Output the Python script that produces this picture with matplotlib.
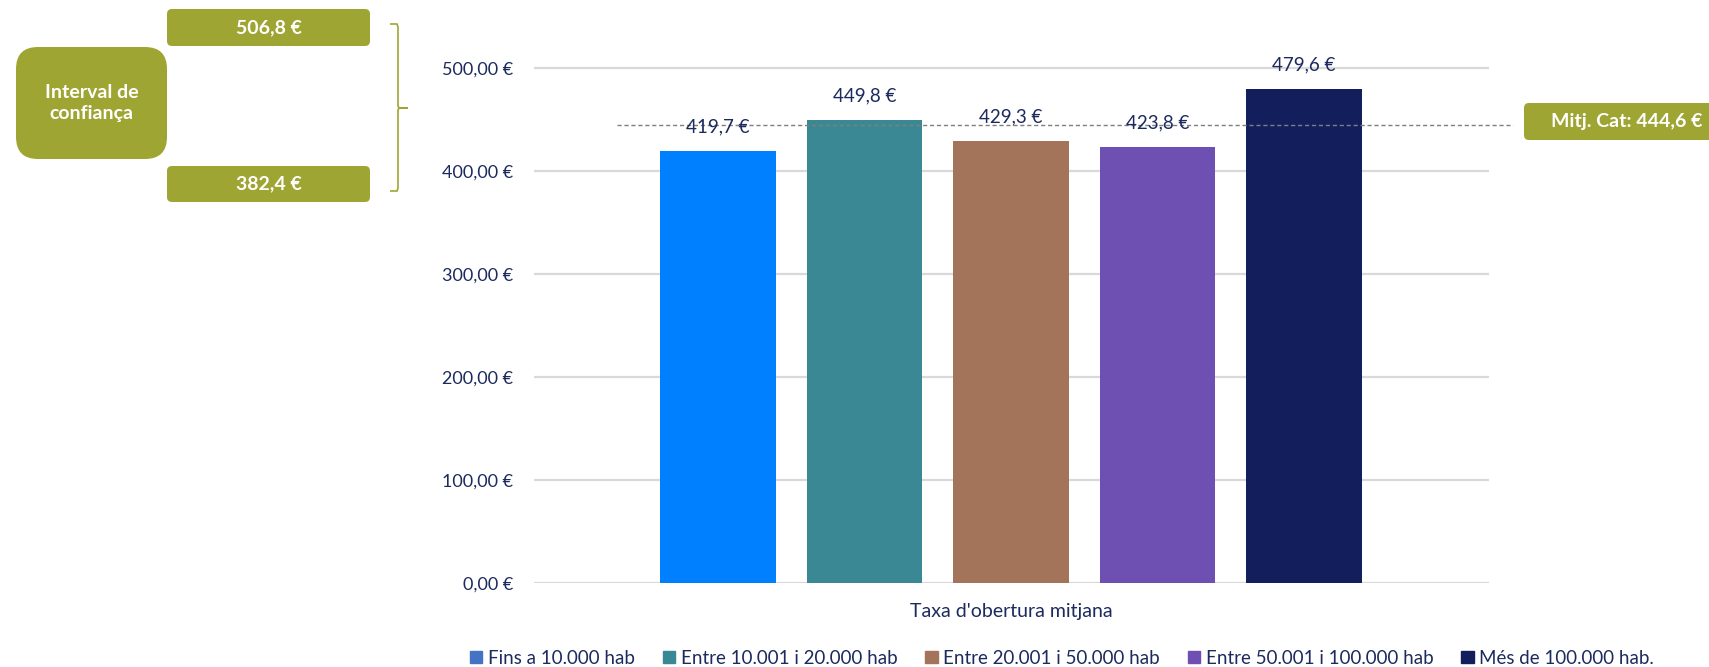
import matplotlib
matplotlib.use("Agg")
import matplotlib.pyplot as plt
from matplotlib.patches import FancyBboxPatch, Patch
from matplotlib.path import Path
from matplotlib.patches import PathPatch

plt.rcParams['font.family'] = ['Lato', 'DejaVu Sans']

categories = ["Fins a 10.000 hab", "Entre 10.001 i 20.000 hab", "Entre 20.001 i 50.000 hab",
              "Entre 50.001 i 100.000 hab", "Més de 100.000 hab."]
values = [419.7, 449.8, 429.3, 423.8, 479.6]
bar_colors = ["#0080FF", "#3A8893", "#A3745A", "#6E50B3", "#131F5C"]
legend_colors = ["#4472C4", "#3A8893", "#A3745A", "#6E50B3", "#131F5C"]
yticks = [0, 100, 200, 300, 400, 500]
ytick_labels = ["0,00 €", "100,00 €", "200,00 €", "300,00 €", "400,00 €", "500,00 €"]
mean_value = 444.6
ci_upper = 506.8
ci_lower = 382.4
xlabel = "Taxa d'obertura mitjana"

W, H = 1709, 667
TXT = "#1C2A5E"
OLIVE = "#9FA532"


def eur(v):
    return f"{v:.1f}".replace(".", ",") + " €"


fig = plt.figure(figsize=(W / 100, H / 100), dpi=100)
ax = fig.add_axes([534 / W, 1 - 582.7 / H, 955 / W, 566 / H])

xs = list(range(len(values)))
ax.bar(xs, values, width=0.79, color=bar_colors, zorder=2)
ax.set_xlim(-1.256, 5.263)
ax.set_ylim(0, 550)
ax.set_yticks(yticks)
ax.set_yticklabels(ytick_labels, color=TXT, fontsize=13)
ax.tick_params(axis='y', length=0, pad=15)
ax.set_xticks([])
for s in ax.spines.values():
    s.set_visible(False)
for t in yticks:
    ax.axhline(t, color="#D9D9D9", lw=1.6, zorder=1)

for x, v in zip(xs, values):
    ax.annotate(eur(v), (x, v), xytext=(0, 17.3),
                textcoords="offset points", ha="center", va="center",
                color=TXT, fontsize=13.5, zorder=4)

ax.axhline(mean_value, xmin=83 / 955, xmax=979 / 955, color="#7F7F7F", lw=1,
           ls=(0, (3, 2)), zorder=3, clip_on=False)

ax.text(0.5, -0.05, xlabel, transform=ax.transAxes, ha="center", va="center",
        color=TXT, fontsize=14)

handles = [Patch(color=c) for c in legend_colors]
fig.legend(handles, categories, loc="center", bbox_to_anchor=(1062 / W, 1 - 658 / H),
           ncol=5, frameon=False, fontsize=13.5, labelcolor=TXT,
           handlelength=0.65, handleheight=0.65, handletextpad=0.3, columnspacing=1.5)

ov = fig.add_axes([0, 0, 1, 1])
ov.set_xlim(0, W)
ov.set_ylim(H, 0)
ov.axis("off")
ov.patch.set_alpha(0)


def box(x0, y0, x1, y1, r, text, fs):
    p = FancyBboxPatch((x0 + r, y0 + r), (x1 - x0) - 2 * r, (y1 - y0) - 2 * r,
                       boxstyle=f"round,pad={r}", fc=OLIVE, ec="none")
    ov.add_patch(p)
    if text:
        ov.text((x0 + x1) / 2, (y0 + y1) / 2, text, ha="center", va="center",
                color="white", fontsize=fs, fontweight="bold", linespacing=1.35)


box(167, 9, 370, 46, 5, eur(ci_upper), 14)
box(167, 166, 370, 202, 5, eur(ci_lower), 14)
box(16, 47, 167, 159, 22, "Interval de\nconfiança", 14)
box(1524, 103, 1730, 140, 5, "", 14)
ov.text(1627, 121.5, "Mitj. Cat: " + eur(mean_value), ha="center",
        va="center", color="white", fontsize=14, fontweight="bold")

verts = [(390, 24), (397, 24), (398, 27), (398, 106), (399, 108), (408, 108),
         (399, 108), (398, 110), (398, 188), (397, 191), (390, 191)]
codes = [Path.MOVETO] + [Path.LINETO] * (len(verts) - 1)
ov.add_patch(PathPatch(Path(verts, codes), fc="none", ec=OLIVE, lw=1.2))

fig.savefig("out.png", dpi=100)
